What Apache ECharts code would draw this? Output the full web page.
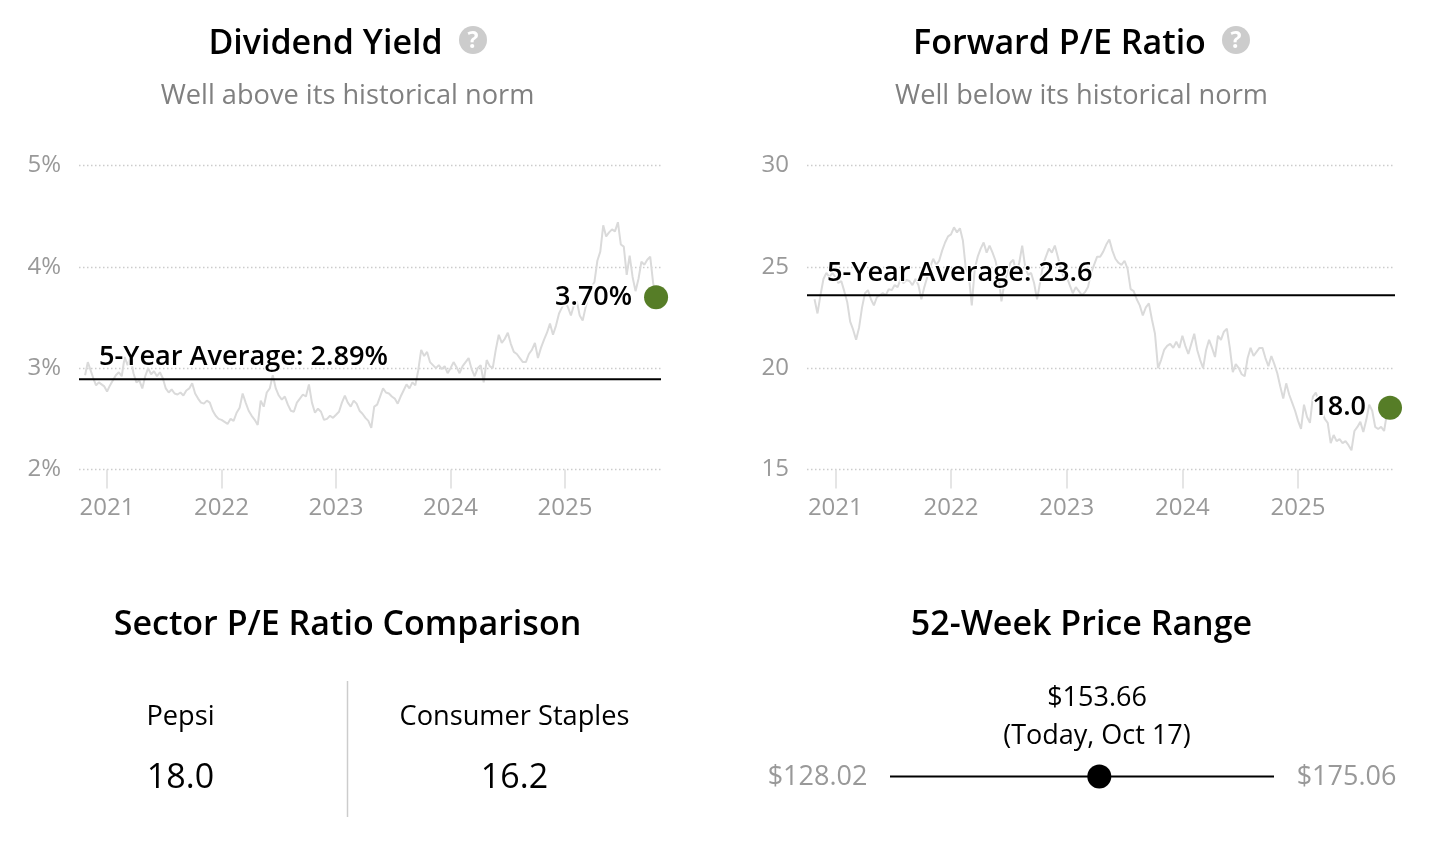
<!DOCTYPE html>
<html><head><meta charset="utf-8">
<style>html,body{margin:0;padding:0;background:#fff}#c{width:1438px;height:846px}</style>
<script src="https://cdn.jsdelivr.net/npm/echarts@6/dist/echarts.min.js"></script></head>
<body><div id="c"></div>
<script>
// Dividend yield (%), one list per calendar year
const yield2020=[2.93,3.06,2.98,2.90,2.83,2.86,2.84,2.82];
const yield2021=[2.77,2.83,2.88,2.93,2.96,2.92,3.11,3.03,3.11,2.95,2.86,2.88,2.80,2.92,3.00,2.94,2.97,2.92,2.96,2.90,2.80,2.76,2.79,2.75,2.74,2.76,2.73,2.78,2.80,2.85,2.75,2.70,2.66,2.65,2.68,2.66,2.58,2.53,2.50];
const yield2022=[2.49,2.47,2.45,2.50,2.48,2.56,2.61,2.75,2.66,2.58,2.53,2.49,2.44,2.68,2.62,2.76,2.80,2.93,2.80,2.73,2.69,2.72,2.64,2.58,2.57,2.66,2.70,2.74,2.72,2.84,2.66,2.56,2.60,2.57,2.49,2.50,2.53,2.51];
const yield2023=[2.54,2.57,2.66,2.73,2.66,2.62,2.68,2.65,2.58,2.55,2.51,2.48,2.41,2.62,2.64,2.72,2.80,2.76,2.75,2.72,2.70,2.65,2.72,2.78,2.84,2.80,2.86,2.83,2.98,3.18,3.12,3.16,3.06,3.03,3.00,3.03,2.99,3.02,2.95];
const yield2024=[3.00,3.06,3.01,2.95,3.02,3.06,3.10,2.99,2.92,3.00,3.03,2.86,3.08,3.02,3.00,3.18,3.33,3.25,3.29,3.35,3.24,3.16,3.14,3.10,3.06,3.06,3.14,3.18,3.25,3.10,3.20,3.28,3.35,3.44,3.33,3.42,3.54,3.60];
const yield2025=[3.66,3.60,3.52,3.62,3.66,3.52,3.47,3.60,3.72,3.80,3.85,4.06,4.15,4.41,4.30,4.34,4.37,4.35,4.44,4.22,4.20,3.92,4.11,3.90,3.76,3.88,4.05,4.02,4.07,4.10,3.84,3.70];
// Forward P/E, one list per calendar year
const pe2020=[23.4,22.7,23.6,24.4,24.7,24.5,24.7];
const pe2021=[24.5,24.2,24.3,23.8,23.27,22.3,21.9,21.4,22.0,23.0,23.7,23.85,23.4,23.1,23.5,23.6,23.7,23.6,23.9,23.85,24.1,24.0,24.4,24.2,24.35,24.3,24.1,24.4,24.1,23.4,24.0,24.5,25.0,25.4,25.1,25.3,25.8,26.2,26.5];
const pe2022=[26.6,26.95,26.7,26.9,26.3,24.9,24.6,23.1,24.9,25.5,25.9,26.2,25.7,26.05,25.7,25.3,24.6,23.3,24.2,24.75,25.2,25.35,24.7,25.2,26.05,25.0,24.6,24.7,24.2,23.4,24.2,25.1,25.5,25.9,25.7,26.05,25.5,24.9,24.5];
const pe2023=[24.5,24.1,23.7,24.0,23.8,23.6,23.75,24.0,24.7,25.1,25.5,25.5,25.75,26.1,26.35,25.8,25.4,25.2,25.1,25.3,24.9,23.9,23.8,23.4,23.1,22.6,23.0,23.2,22.4,21.7,20.0,20.4,20.9,21.1,21.2,21.0,21.3,21.0];
const pe2024=[21.6,21.1,20.7,21.2,21.7,20.9,20.4,20.0,20.9,21.4,21.0,20.55,21.6,21.4,21.8,21.95,21.0,19.8,20.2,20.0,19.7,19.6,20.5,21.0,20.6,20.8,21.0,21.0,20.5,20.1,20.6,20.2,19.75,19.1,18.5,19.25,18.7,18.3,17.9];
const pe2025=[17.4,17.0,18.2,17.6,17.3,18.6,18.8,18.3,17.9,17.5,17.3,16.3,16.7,16.4,16.5,16.3,16.4,16.2,15.95,16.9,17.1,17.35,16.85,17.45,18.2,17.9,17.1,17.0,17.1,16.9,17.8,18.05];
const yieldAvg=2.89, peAvg=23.6;
const yieldCurrent=3.70, peCurrent=18.05;
const yearTicks=[2021,2022,2023,2024,2025];
const yieldTicks=[2,3,4,5], peTicks=[15,20,25,30];
const rangeLow=128.02, rangeHigh=175.06, priceToday=153.66;
const FONT='"Open Sans"';
const GREEN='#567d27';
const xMin=2020.755,xMax=2025.838,lastX=2025.795;
function spread(lists,starts,end){
  const out=[];
  lists.forEach((vals,k)=>{
    const a=starts[k], last=k===lists.length-1, b=last?end:starts[k+1], n=last?vals.length-1:vals.length;
    vals.forEach((v,i)=>out.push([a+(b-a)*i/n,v]));
  });
  return out;
}
const yieldLine=spread([yield2020,yield2021,yield2022,yield2023,yield2024,yield2025],[2020.808,2021,2022,2023,2024,2025],lastX);
const peLine=spread([pe2020,pe2021,pe2022,pe2023,pe2024,pe2025],[2020.82,2021,2022,2023,2024,2025],lastX);
function text(x,y,t,size,fill,weight,align){return {type:'text',x:x,y:y,silent:true,style:{text:t,font:`${weight||400} ${size}px ${FONT}`,fill:fill||'#000',align:align||'center',verticalAlign:'middle'}};}
function help(x,y){return [
 {type:'circle',shape:{cx:x,cy:y,r:14},style:{fill:'#cccccc'},silent:true},
 text(x,y+1,'?',23,'#fff',700)];}
function xAxis(i){return {type:'value',gridIndex:i,min:xMin,max:xMax,splitLine:{show:false},axisLine:{show:false},
  axisTick:{show:true,customValues:yearTicks,length:19,lineStyle:{color:'#dddddd',width:1.5}},
  axisLabel:{show:true,customValues:yearTicks,formatter:v=>String(Math.round(v)),color:'#999',fontFamily:FONT,fontSize:24,margin:27}};}
function yAxis(i,ticks,fmt){return {type:'value',gridIndex:i,min:ticks[0],max:ticks[3],interval:ticks[1]-ticks[0],axisLine:{show:false},axisTick:{show:false},
  splitLine:{show:true,lineStyle:{type:[1.5,2.5],color:'#cccccc',width:1.4}},
  axisLabel:{formatter:fmt,color:'#999',fontFamily:FONT,fontSize:24,margin:18,verticalAlign:'middle',padding:[0,0,10,0]}};}
function lineS(i,data){return {type:'line',xAxisIndex:i,yAxisIndex:i,data:data,symbol:'none',silent:true,z:2,lineStyle:{color:'#dadada',width:2,join:'bevel'},animation:false};}
function avgS(i,val,label,offX){return {type:'line',xAxisIndex:i,yAxisIndex:i,data:[[xMin,val],[xMax,val]],symbol:'none',silent:true,z:3,lineStyle:{color:'#000',width:2},animation:false,
  markPoint:{silent:true,symbol:'circle',symbolSize:0,animation:false,data:[{coord:[xMin,val],label:{show:true,position:'insideLeft',formatter:label,offset:[offX,-22],color:'#000',fontFamily:FONT,fontWeight:600,fontSize:27.2,textBorderColor:'#fff',textBorderWidth:2.5}}]}};}
function dotS(i,x,val,label){return {type:'scatter',xAxisIndex:i,yAxisIndex:i,data:[[x,val]],symbol:'circle',symbolSize:24,silent:true,z:5,itemStyle:{color:GREEN,opacity:1},animation:false,
  label:{show:true,position:'left',distance:12,formatter:label,color:'#000',fontFamily:FONT,fontWeight:600,fontSize:27,textBorderColor:'#fff',textBorderWidth:3,opacity:1}};}
const option={animation:false,backgroundColor:'#fff',
 grid:[
  {left:79,width:582,top:165.5,height:304},
  {left:807,width:588,top:165.5,height:304},
  {left:890,width:384,top:746.5,height:60}],
 xAxis:[xAxis(0),xAxis(1),{type:'value',gridIndex:2,min:rangeLow,max:rangeHigh,show:false}],
 yAxis:[yAxis(0,yieldTicks,v=>v+'%'),yAxis(1,peTicks,v=>String(v)),{type:'value',gridIndex:2,min:-1,max:1,show:false}],
 series:[
  lineS(0,yieldLine),avgS(0,yieldAvg,'5-Year Average: 2.89%',15),dotS(0,lastX,yieldCurrent,'3.70%'),
  lineS(1,peLine),avgS(1,peAvg,'5-Year Average: 23.6',15),dotS(1,lastX,peCurrent,'18.0'),
  {type:'line',xAxisIndex:2,yAxisIndex:2,data:[[rangeLow,0],[rangeHigh,0]],symbol:'none',silent:true,lineStyle:{color:'#000',width:2},animation:false},
  {type:'scatter',xAxisIndex:2,yAxisIndex:2,data:[[priceToday,0]],symbol:'circle',symbolSize:24,silent:true,itemStyle:{color:'#000',opacity:1},animation:false}
 ],
 graphic:{elements:[
  text(325.5,44.5,'Dividend Yield',34,'#000',600),...help(473,40),
  text(347.5,96,'Well above its historical norm',27.2,'#808080'),
  text(1059.5,44.5,'Forward P/E Ratio',34,'#000',600),...help(1236,40),
  text(1081.5,96,'Well below its historical norm',27.2,'#808080'),
  text(347.5,625.5,'Sector P/E Ratio Comparison',34,'#000',600),
  text(1081.5,625.5,'52-Week Price Range',34,'#000',600),
  text(180.5,717,'Pepsi',27.2,'#000'),
  text(514.5,717,'Consumer Staples',27.2,'#000'),
  text(180.5,778.5,'18.0',34,'#000'),
  text(514.5,778.5,'16.2',34,'#000'),
  {type:'line',silent:true,shape:{x1:347.5,y1:681,x2:347.5,y2:817},style:{stroke:'#cccccc',lineWidth:1.5}},
  text(1097,698,'$153.66',27,'#000'),
  text(1097,736,'(Today, Oct 17)',27,'#000'),
  text(817.5,777,'$128.02',27,'#999'),
  text(1346.5,777,'$175.06',27,'#999')
 ]}
};
const chart=echarts.init(document.getElementById('c'),null,{renderer:'canvas'});
chart.setOption(option);
</script></body></html>
